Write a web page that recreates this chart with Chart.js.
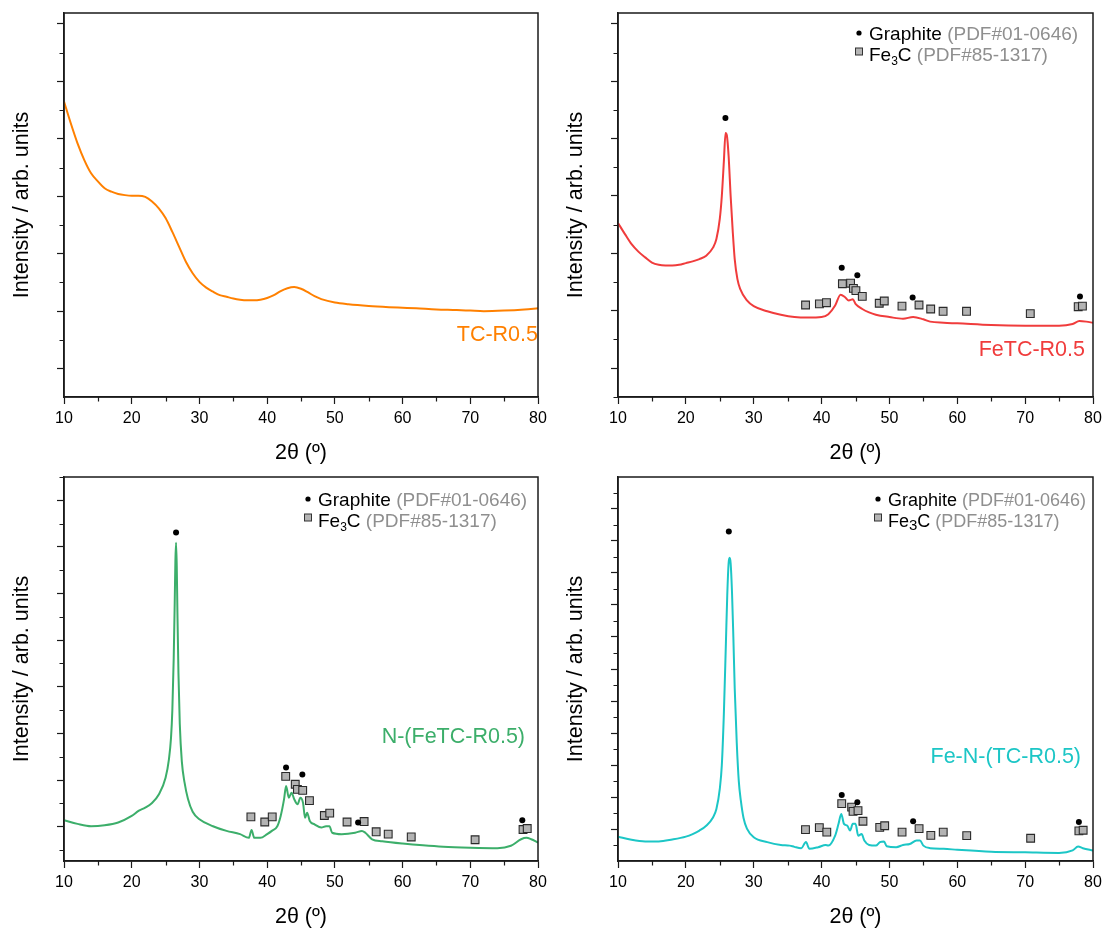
<!DOCTYPE html>
<html><head><meta charset="utf-8">
<script src="https://cdn.jsdelivr.net/npm/chart.js@4.4.1/dist/chart.umd.min.js"></script>
<style>
html,body{margin:0;padding:0;background:#fff;width:1108px;height:935px;overflow:hidden}
canvas{position:absolute}
</style></head><body>
<canvas id="c1" width="554" height="467" style="left:0;top:0"></canvas>
<canvas id="c2" width="554" height="467" style="left:554px;top:0"></canvas>
<canvas id="c3" width="554" height="467" style="left:0;top:464px"></canvas>
<canvas id="c4" width="554" height="467" style="left:554px;top:464px"></canvas>
<script>
// ---------- data ----------
const xTicks = [10, 20, 30, 40, 50, 60, 70, 80];
const yTicksTop = [0, 1, 2, 3, 4, 5, 6];
const yTicksN = [0, 1, 2, 3, 4, 5, 6, 7];
const yTicksFeN = [0, 1, 2, 3, 4, 5, 6, 7, 8, 9, 10];

// TC-R0.5
const tcX = [10,11,12,13,14,15,16,17,18,19,20,21,22,23,24,25,26,27,28,29,30,31,32,33,34,35,36,37,38,39,40,41,42,43,44,45,46,47,48,50,52,55,58,60,62,65,68,70,72,75,78,80];
const tcY = [4.65,4.27,3.92,3.63,3.40,3.26,3.14,3.08,3.04,3.02,3.01,3.01,2.99,2.91,2.79,2.62,2.38,2.12,1.86,1.66,1.51,1.41,1.34,1.28,1.25,1.22,1.20,1.19,1.19,1.20,1.23,1.28,1.35,1.40,1.42,1.39,1.33,1.26,1.21,1.15,1.12,1.09,1.07,1.06,1.05,1.03,1.02,1.01,1.00,1.01,1.03,1.05];

// FeTC-R0.5
const feX = [10,11,12,13,14,15,16,17,18,19,20,21,22,23,24,24.5,25,25.3,25.6,25.85,26.05,26.3,26.6,26.9,27.2,27.6,28,29,30,32,34,36,38,40,41,42,42.8,43.5,44,44.6,45,46,47,48,50,52,53.5,55,56,58,60,65,70,75,77,78,79,80];
const feY = [2.53,2.34,2.16,2.03,1.93,1.84,1.80,1.79,1.79,1.80,1.83,1.86,1.90,1.96,2.10,2.25,2.6,3.0,3.6,4.1,4.05,3.7,3.0,2.4,1.9,1.55,1.38,1.18,1.08,0.99,0.93,0.89,0.88,0.89,0.94,1.09,1.28,1.23,1.18,1.20,1.12,1.03,0.97,0.93,0.89,0.86,0.89,0.85,0.81,0.79,0.78,0.75,0.74,0.74,0.77,0.82,0.81,0.79];
const feGraphiteX = [25.83, 42.97, 45.27, 53.42, 78.08];
const feGraphiteY = [4.36, 1.75, 1.62, 1.23, 1.25];
const feCarbideX = [37.64,39.68,40.72,43.07,44.27,44.69,45.06,46.0,48.5,49.24,51.85,54.36,56.08,57.91,61.36,70.76,77.82,78.44];
const feCarbideY = [1.10,1.12,1.14,1.47,1.48,1.39,1.35,1.25,1.13,1.17,1.08,1.10,1.03,0.99,0.99,0.95,1.07,1.08];

// N-(FeTC-R0.5)
const nX = [10,12,14,16,18,20,21,22,23,24,25,25.5,25.8,26,26.2,26.35,26.45,26.55,26.65,26.75,26.9,27.1,27.4,27.8,28.3,29,30,32,34,36,37.3,37.7,38.1,39,40,40.7,41.5,42,42.5,42.8,43.2,43.6,44,44.5,44.9,45.3,45.6,45.9,46.3,47,48,48.7,49.2,49.6,51,53,54,54.5,55.5,57,60,63,66,70,74,76,77.5,78.3,79,80];
const nY = [0.14,0.06,0.01,0.03,0.09,0.23,0.34,0.41,0.51,0.69,1.05,1.45,1.9,2.5,3.6,4.8,5.7,6.09,5.6,4.6,3.3,2.2,1.4,0.95,0.6,0.32,0.16,0.01,-0.09,-0.16,-0.24,-0.07,-0.24,-0.24,-0.16,-0.09,0.01,0.23,0.59,0.87,0.62,0.73,0.59,0.48,0.62,0.51,0.19,0.30,0.12,0.05,-0.02,0.01,0.01,-0.13,-0.16,-0.13,-0.09,-0.13,-0.27,-0.31,-0.36,-0.40,-0.43,-0.45,-0.46,-0.41,-0.27,-0.24,-0.27,-0.34];
const nGraphiteX = [26.55, 42.79, 45.2, 53.43, 77.68];
const nGraphiteY = [6.31, 1.27, 1.12, 0.09, 0.14];
const nCarbideX = [37.6,39.65,40.75,42.74,44.15,44.47,45.25,46.25,48.45,49.24,51.8,54.32,56.1,57.88,61.28,70.71,77.79,78.41];
const nCarbideY = [0.21,0.10,0.21,1.08,0.91,0.80,0.78,0.56,0.24,0.29,0.10,0.11,-0.11,-0.16,-0.22,-0.28,-0.06,-0.04];

// Fe-N-(TC-R0.5)
const fnX = [10,12,14,16,18,20,21,22,23,24,24.5,25,25.3,25.6,25.9,26.1,26.3,26.45,26.6,26.8,27,27.2,27.5,27.8,28.1,28.5,29,30,32,34,35.3,36,37,37.7,38.2,39.5,40.6,41,42,42.5,42.9,43.3,43.8,44.2,44.6,45,45.4,45.9,46.3,47,48,48.6,49.2,49.6,51,52,53,54,54.5,55,56,58,60,65,70,75,77,77.8,78.5,80];
const fnY = [-0.23,-0.33,-0.38,-0.38,-0.32,-0.23,-0.15,-0.04,0.11,0.37,0.63,1.26,2.0,3.6,5.8,7.3,8.3,8.47,8.3,7.4,6.0,4.4,2.7,1.5,0.9,0.35,0.02,-0.25,-0.40,-0.49,-0.51,-0.55,-0.59,-0.40,-0.61,-0.56,-0.49,-0.51,-0.20,0.17,0.48,0.17,0.11,-0.04,0.17,0.17,-0.20,-0.15,-0.35,-0.49,-0.51,-0.40,-0.38,-0.53,-0.56,-0.49,-0.46,-0.35,-0.35,-0.51,-0.59,-0.61,-0.64,-0.70,-0.72,-0.74,-0.66,-0.54,-0.59,-0.66];
const fnGraphiteX = [26.33, 42.97, 45.27, 53.49, 77.92];
const fnGraphiteY = [9.29, 1.07, 0.84, 0.25, 0.23];
const fnCarbideX = [37.63,39.67,40.77,42.97,44.43,44.64,45.37,46.1,48.57,49.3,51.86,54.37,56.1,57.93,61.39,70.81,77.92,78.55];
const fnCarbideY = [-0.01,0.05,-0.09,0.80,0.69,0.56,0.58,0.25,0.06,0.11,-0.09,0.02,-0.19,-0.09,-0.20,-0.28,-0.05,-0.03];

// ---------- rendering ----------
const FONT = '"Liberation Sans", Arial, sans-serif';
const AXIS = '#1a1a1a';
const zip = (xs, ys) => xs.map((x, i) => ({x, y: ys[i]}));

const framePlugin = {
  id: 'frameMinor',
  afterDraw(chart) {
    const {ctx, chartArea: a, scales} = chart;
    ctx.save();
    ctx.strokeStyle = AXIS;
    ctx.lineWidth = 1.5;
    ctx.strokeRect(a.left, a.top, a.right - a.left, a.bottom - a.top);
    ctx.lineWidth = 1.2;
    ctx.beginPath();
    const xs = scales.x, ys = scales.y;
    for (let i = 0; i < xTicks.length - 1; i++) {
      const px = Math.round(xs.getPixelForValue((xTicks[i] + xTicks[i + 1]) / 2)) + 0.5;
      ctx.moveTo(px, a.bottom); ctx.lineTo(px, a.bottom + 4.5);
    }
    const yt = chart.options.plugins.frameMinor.yTicks;
    const step = yt[1] - yt[0];
    for (let v = yt[0] - step / 2; v <= ys.max; v += step) {
      if (v < ys.min) continue;
      const py = Math.round(ys.getPixelForValue(v)) + 0.5;
      ctx.moveTo(a.left, py); ctx.lineTo(a.left - 4.5, py);
    }
    ctx.stroke();
    ctx.restore();
  }
};

const textPlugin = {
  id: 'annot',
  afterDraw(chart) {
    const o = chart.options.plugins.annot;
    const {ctx, chartArea: a} = chart;
    ctx.save();
    ctx.textBaseline = 'middle';
    ctx.font = `21.5px ${FONT}`;
    ctx.fillStyle = o.color;
    ctx.textAlign = 'right';
    ctx.fillText(o.label, a.left + o.lx, a.top + o.ly);
    const L = o.legend;
    if (L) {
      ctx.textAlign = 'left';
      const x = a.left + L.dx, y = a.top + L.dy;
      ctx.fillStyle = '#000';
      ctx.beginPath(); ctx.arc(x, y - 2, 2.6, 0, Math.PI * 2); ctx.fill();
      ctx.font = `${L.size}px ${FONT}`;
      let tx = x + 10;
      ctx.fillText('Graphite', tx, y);
      tx += ctx.measureText('Graphite ').width;
      ctx.fillStyle = '#8f8f8f';
      ctx.fillText('(PDF#01-0646)', tx, y);
      const y2 = y + 21;
      ctx.fillStyle = '#b5b5b5';
      ctx.fillRect(x - 3.5, y2 - 8, 7, 7);
      ctx.strokeStyle = '#333'; ctx.lineWidth = 1;
      ctx.strokeRect(x - 3.5, y2 - 8, 7, 7);
      ctx.fillStyle = '#000';
      tx = x + 10;
      ctx.fillText('Fe', tx, y2);
      tx += ctx.measureText('Fe').width;
      ctx.font = `${L.sub}px ${FONT}`;
      ctx.fillText('3', tx, y2 + L.subDy);
      tx += ctx.measureText('3').width;
      ctx.font = `${L.size}px ${FONT}`;
      ctx.fillText('C', tx, y2);
      tx += ctx.measureText('C ').width;
      ctx.fillStyle = '#8f8f8f';
      ctx.fillText('(PDF#85-1317)', tx, y2);
    }
    ctx.restore();
  }
};

function makeChart(id, cfg) {
  const datasets = [];
  if (cfg.gx) {
    datasets.push({data: zip(cfg.gx, cfg.gy), pointStyle: 'circle', pointRadius: 3, pointBackgroundColor: '#000', pointBorderWidth: 0, showLine: false, order: 0});
    datasets.push({data: zip(cfg.cx, cfg.cy), pointStyle: 'rect', pointRadius: 5.5, pointBackgroundColor: '#b3b3b3', pointBorderColor: '#2a2a2a', pointBorderWidth: 1.1, showLine: false, order: 1});
  }
  datasets.push({data: zip(cfg.x, cfg.y), showLine: true, borderColor: cfg.color, borderWidth: 2, pointRadius: 0, cubicInterpolationMode: 'monotone', order: 5});
  const gridOpts = {display: true, drawOnChartArea: false, drawTicks: true, tickLength: 7, tickColor: AXIS, tickWidth: 1.2};
  return new Chart(document.getElementById(id), {
    type: 'scatter',
    data: {datasets},
    options: {
      responsive: false, animation: false, devicePixelRatio: 1,
      layout: {padding: {left: 0, top: 13, right: cfg.padRight, bottom: 0}},
      plugins: {legend: {display: false}, tooltip: {enabled: false},
        frameMinor: {yTicks: cfg.yTicks},
        annot: {label: cfg.label, color: cfg.color, lx: cfg.lx, ly: cfg.ly, legend: cfg.legend}},
      scales: {
        x: {type: 'linear', min: 10, max: 80,
          afterBuildTicks: s => { s.ticks = xTicks.map(v => ({value: v})); },
          ticks: {font: {family: FONT, size: 16}, color: '#000', padding: 5, maxRotation: 0, autoSkip: false},
          grid: gridOpts, border: {display: true, color: AXIS, width: 1.5},
          title: {display: true, text: '2θ (º)', font: {family: FONT, size: 21.5}, color: '#000', padding: {top: 0, bottom: 1}},
          afterFit: s => { s.height = 70; }},
        y: {type: 'linear', min: cfg.ymin, max: cfg.ymax,
          afterBuildTicks: s => { s.ticks = cfg.yTicks.map(v => ({value: v})); },
          ticks: {display: false},
          grid: gridOpts, border: {display: true, color: AXIS, width: 1.5},
          title: {display: true, text: 'Intensity / arb. units', font: {family: FONT, size: 21.5}, color: '#000', padding: {top: 9, bottom: 0}},
          afterFit: s => { s.width = 64; }}
      }
    },
    plugins: [framePlugin, textPlugin]
  });
}

makeChart('c1', {x: tcX, y: tcY, color: '#ff8000', label: 'TC-R0.5', lx: 474, ly: 322,
  ymin: -0.494, ymax: 6.19, yTicks: yTicksTop, padRight: 16});
makeChart('c2', {x: feX, y: feY, gx: feGraphiteX, gy: feGraphiteY, cx: feCarbideX, cy: feCarbideY,
  color: '#f03c3c', label: 'FeTC-R0.5', lx: 467, ly: 337, legend: {dx: 241, dy: 22, size: 19, sub: 12, subDy: 6},
  ymin: -0.504, ymax: 6.19, yTicks: yTicksTop, padRight: 15});
makeChart('c3', {x: nX, y: nY, gx: nGraphiteX, gy: nGraphiteY, cx: nCarbideX, cy: nCarbideY,
  color: '#3cae6a', label: 'N-(FeTC-R0.5)', lx: 461, ly: 260, legend: {dx: 244, dy: 24, size: 19, sub: 12, subDy: 6},
  ymin: -0.736, ymax: 7.5, yTicks: yTicksN, padRight: 16});
makeChart('c4', {x: fnX, y: fnY, gx: fnGraphiteX, gy: fnGraphiteY, cx: fnCarbideX, cy: fnCarbideY,
  color: '#1cc6c6', label: 'Fe-N-(TC-R0.5)', lx: 463, ly: 280, legend: {dx: 260, dy: 24, size: 18, sub: 15, subDy: 4},
  ymin: -0.99, ymax: 10.99, yTicks: yTicksFeN, padRight: 15});
</script>
</body></html>
